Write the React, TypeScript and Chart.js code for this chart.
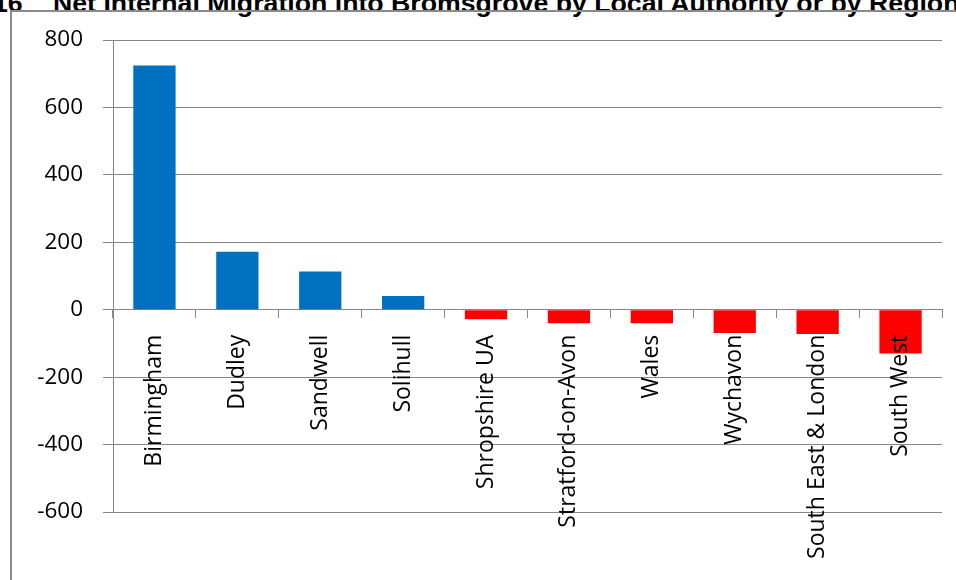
import { useEffect, useRef } from "react";
import { Chart, registerables } from "chart.js";

Chart.register(...registerables);

// Net internal migration into Bromsgrove, by origin area
const areas = [
  "Birmingham",
  "Dudley",
  "Sandwell",
  "Solihull",
  "Shropshire UA",
  "Stratford-on-Avon",
  "Wales",
  "Wychavon",
  "South East & London",
  "South West",
];
const netMigration = [724, 172, 113, 41, -28, -40, -40, -69, -72, -130];

const yMin = -600;
const yMax = 800;
const yStep = 200;

const figureLabel = "Figure 16";
const figureTitle = "Net Internal Migration into Bromsgrove by Local Authority or by Region";

const INFLOW = "#0070C0";
const OUTFLOW = "#FF0000";
const GRID = "#878787";

export default function App() {
  const canvasRef = useRef<HTMLCanvasElement | null>(null);

  useEffect(() => {
    const canvas = canvasRef.current;
    if (!canvas) return;
    const chart = new Chart(canvas, {
      type: "bar",
      data: {
        labels: areas,
        datasets: [
          {
            data: netMigration,
            backgroundColor: netMigration.map((v) => (v >= 0 ? INFLOW : OUTFLOW)),
            borderWidth: 0,
            categoryPercentage: 0.51,
            barPercentage: 1,
          },
        ],
      },
      options: {
        animation: false,
        responsive: true,
        maintainAspectRatio: false,
        layout: { padding: { top: 40, left: 0, right: 14, bottom: 68 } },
        plugins: {
          legend: { display: false },
          tooltip: { enabled: false },
          title: { display: false },
        },
        scales: {
          x: {
            position: { y: 0 } as any,
            offset: true,
            grid: {
              display: true,
              drawOnChartArea: false,
              drawTicks: true,
              tickLength: 8,
              color: GRID,
              offset: true,
            },
            border: { display: true, color: GRID, width: 1 },
            ticks: {
              autoSkip: false,
              minRotation: 90,
              maxRotation: 90,
              padding: 17,
              color: "#000",
              font: { family: "'Open Sans', sans-serif", size: 23 },
              z: 1,
            },
          },
          y: {
            min: yMin,
            max: yMax,
            afterFit: (scale: any) => {
              scale.width = 113;
            },
            grid: {
              color: GRID,
              drawTicks: true,
              tickLength: 10,
            },
            border: { display: true, color: GRID, width: 1 },
            ticks: {
              stepSize: yStep,
              padding: 20,
              color: "#000",
              font: { family: "'Open Sans', sans-serif", size: 22.5 },
            },
          },
        },
      },
    });
    return () => chart.destroy();
  }, []);

  return (
    <div
      style={{
        position: "fixed",
        left: 0,
        top: 0,
        width: 956,
        height: 580,
        background: "#fff",
        overflow: "hidden",
      }}
    >
      <div
        style={{
          position: "absolute",
          left: 0,
          top: -10,
          width: 956,
          height: 30,
          fontFamily: "'Liberation Sans', Arial, sans-serif",
          fontWeight: "bold",
          fontSize: 26.7,
          lineHeight: "26.7px",
          whiteSpace: "pre",
          color: "#000",
        }}
      >
        <span style={{ position: "absolute", left: -96, top: 0 }}>{figureLabel}</span>
        <span style={{ position: "absolute", left: 53, top: 0 }}>{figureTitle}</span>
      </div>
      <div
        style={{
          position: "absolute",
          left: 10,
          top: 10,
          width: 1200,
          height: 1000,
          border: "2px solid #8a8a8a",
        }}
      />
      <canvas
        ref={canvasRef}
        style={{ position: "absolute", left: 0, top: 0, width: 956, height: 580 }}
      />
    </div>
  );
}
